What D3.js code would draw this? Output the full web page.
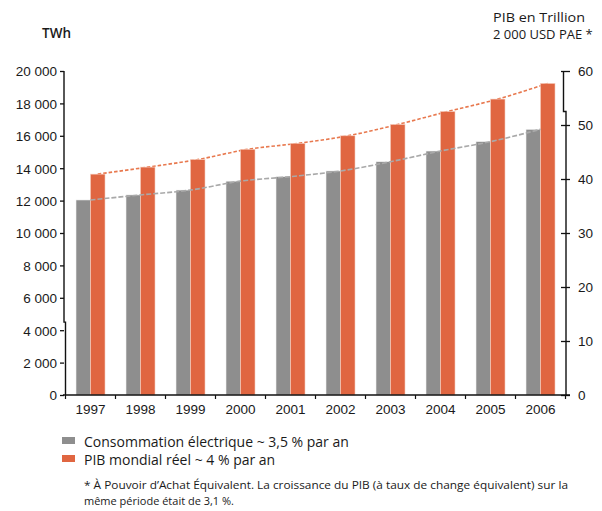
<!DOCTYPE html>
<html>
<head>
<meta charset="utf-8">
<script src="https://cdn.jsdelivr.net/npm/d3@7/dist/d3.min.js"></script>
<style>
  html, body { margin: 0; padding: 0; background: #fff; }
  svg { display: block; font-family: "Open Sans", "Noto Sans", sans-serif; }
  .tick text { fill: #1a1a1a; }
</style>
</head>
<body>
<svg id="chart" width="602" height="511"></svg>
<script>
// Years on the category axis
const years = ["1997", "1998", "1999", "2000", "2001", "2002", "2003", "2004", "2005", "2006"];
// Electricity consumption, TWh (left axis)
const consommation = [12040, 12350, 12650, 13200, 13480, 13830, 14400, 15060, 15640, 16400];
// Real world GDP, trillion 2000 USD PPP (right axis)
const pib = [40.9, 42.2, 43.6, 45.5, 46.6, 48.0, 50.1, 52.5, 54.8, 57.7];
// Tick values
const leftTicks = [0, 2000, 4000, 6000, 8000, 10000, 12000, 14000, 16000, 18000, 20000];
const rightTicks = [0, 10, 20, 30, 40, 50, 60];

const grayColor = "#8e8e8e";
const orangeColor = "#e06641";

const svg = d3.select("#chart");
const fmtLeft = d => d === 0 ? "0" : d3.format(",")(d).replace(/,/g, " ");

const x = d3.scaleBand().domain(years).range([65.5, 565.5]).paddingInner(0.42).paddingOuter(0.21);
const xSub = d3.scaleBand().domain(["conso", "pib"]).range([0, x.bandwidth()]);
const yL = d3.scaleLinear().domain([0, 20000]).range([395, 71]);
const yR = d3.scaleLinear().domain([0, 60]).range([395, 71]);
const step = x.step();

// Orange GDP trend line sits behind the bars
const lineR = d3.line()
  .x((d, i) => x(years[i]) + xSub("pib") + xSub.bandwidth() / 2)
  .y(d => yR(d))
  .curve(d3.curveMonotoneX);
svg.append("path")
  .datum(pib)
  .attr("d", lineR)
  .attr("fill", "none")
  .attr("stroke", "#e8794f")
  .attr("stroke-width", 1.6)
  .attr("stroke-dasharray", "3.5,2");

// Bars
const groups = svg.append("g").selectAll("g")
  .data(years)
  .join("g")
  .attr("transform", d => `translate(${x(d)},0)`);

groups.append("rect")
  .attr("x", xSub("conso"))
  .attr("width", xSub.bandwidth())
  .attr("y", (d, i) => yL(consommation[i]))
  .attr("height", (d, i) => yL(0) - yL(consommation[i]))
  .attr("fill", grayColor)
  .attr("stroke", "#f2f2f2")
  .attr("stroke-width", 0.6);

groups.append("rect")
  .attr("x", xSub("pib"))
  .attr("width", xSub.bandwidth())
  .attr("y", (d, i) => yR(pib[i]))
  .attr("height", (d, i) => yR(0) - yR(pib[i]))
  .attr("fill", orangeColor)
  .attr("stroke", "#f6cdbf")
  .attr("stroke-width", 0.6);

// Grey consumption trend line drawn over the bars
const lineL = d3.line()
  .x((d, i) => x(years[i]) + xSub.bandwidth())
  .y(d => yL(d))
  .curve(d3.curveMonotoneX);
svg.append("path")
  .datum(consommation)
  .attr("d", lineL)
  .attr("fill", "none")
  .attr("stroke", "#a9a9a9")
  .attr("stroke-width", 1.6)
  .attr("stroke-dasharray", "5,2");

// Left axis
const axL = svg.append("g")
  .attr("transform", "translate(64,0)")
  .call(d3.axisLeft(yL).tickValues(leftTicks).tickFormat(fmtLeft).tickSize(4).tickPadding(3));
axL.select(".domain").remove();
axL.selectAll(".tick line").attr("stroke", "#111").attr("stroke-width", 1.3);
axL.selectAll(".tick text").attr("font-size", "13.5px").attr("dy", "0.36em");
// Axis line with a small break offset
svg.append("path")
  .attr("d", `M64,${yL(20000)}V${yL(4500)}H65.5V${yL(0)}`)
  .attr("fill", "none").attr("stroke", "#111").attr("stroke-width", 1.4);

// Right axis
const axR = svg.append("g")
  .attr("transform", "translate(566,0)")
  .call(d3.axisRight(yR).tickValues(rightTicks).tickSize(4).tickPadding(8));
axR.select(".domain").remove();
axR.selectAll(".tick line").attr("x1", -5).attr("x2", 4).attr("stroke", "#111").attr("stroke-width", 1.3);
axR.selectAll(".tick text").attr("font-size", "13.5px").attr("dy", "0.36em");
svg.append("path")
  .attr("d", `M563.5,${yR(60)}V${yR(52.5)}H566V${yR(0)}`)
  .attr("fill", "none").attr("stroke", "#111").attr("stroke-width", 1.4);

// Category axis
const axX = svg.append("g")
  .attr("transform", `translate(0,${yL(0)})`)
  .call(d3.axisBottom(x).tickSize(0).tickPadding(9));
axX.select(".domain").remove();
axX.selectAll(".tick text").attr("font-size", "13.5px");
svg.append("line")
  .attr("x1", 63).attr("x2", 570).attr("y1", yL(0)).attr("y2", yL(0))
  .attr("stroke", "#111").attr("stroke-width", 1.4);
svg.append("g").selectAll("line")
  .data(years.concat(["end"]))
  .join("line")
  .attr("x1", (d, i) => x.range()[0] + i * step)
  .attr("x2", (d, i) => x.range()[0] + i * step)
  .attr("y1", yL(0)).attr("y2", yL(0) + 4)
  .attr("stroke", "#111").attr("stroke-width", 1.2);

// Axis titles
svg.append("text").attr("x", 42).attr("y", 38)
  .attr("font-size", "13.5px").attr("font-weight", 600).attr("fill", "#1a1a1a").text("TWh");
svg.append("text").attr("x", 493).attr("y", 22)
  .attr("font-size", "13px").attr("font-weight", 500).attr("fill", "#1a1a1a")
  .attr("textLength", 92).attr("lengthAdjust", "spacingAndGlyphs").text("PIB en Trillion");
svg.append("text").attr("x", 493).attr("y", 39)
  .attr("font-size", "13px").attr("font-weight", 500).attr("fill", "#1a1a1a").text("2 000 USD PAE *");

// Legend
const legend = [
  { label: "Consommation électrique ~ 3,5 % par an", color: grayColor, y: 447 },
  { label: "PIB mondial réel ~ 4 % par an", color: orangeColor, y: 465 }
];
const lg = svg.append("g").selectAll("g").data(legend).join("g");
lg.append("rect")
  .attr("x", 62).attr("y", d => d.y - 10).attr("width", 13).attr("height", 7)
  .attr("fill", d => d.color);
lg.append("text")
  .attr("x", 84).attr("y", d => d.y)
  .attr("font-size", "14px").attr("fill", "#1a1a1a")
  .text(d => d.label);

// Footnote
const notes = [
  { text: "* À Pouvoir d’Achat Équivalent. La croissance du PIB (à taux de change équivalent) sur la", y: 489, w: 484 },
  { text: "même période était de 3,1 %.", y: 505, w: 150 }
];
svg.append("g").selectAll("text").data(notes).join("text")
  .attr("x", 84).attr("y", d => d.y)
  .attr("font-size", "10.5px").attr("fill", "#1a1a1a")
  .attr("textLength", d => d.w).attr("lengthAdjust", "spacingAndGlyphs")
  .text(d => d.text);
</script>
</body>
</html>
